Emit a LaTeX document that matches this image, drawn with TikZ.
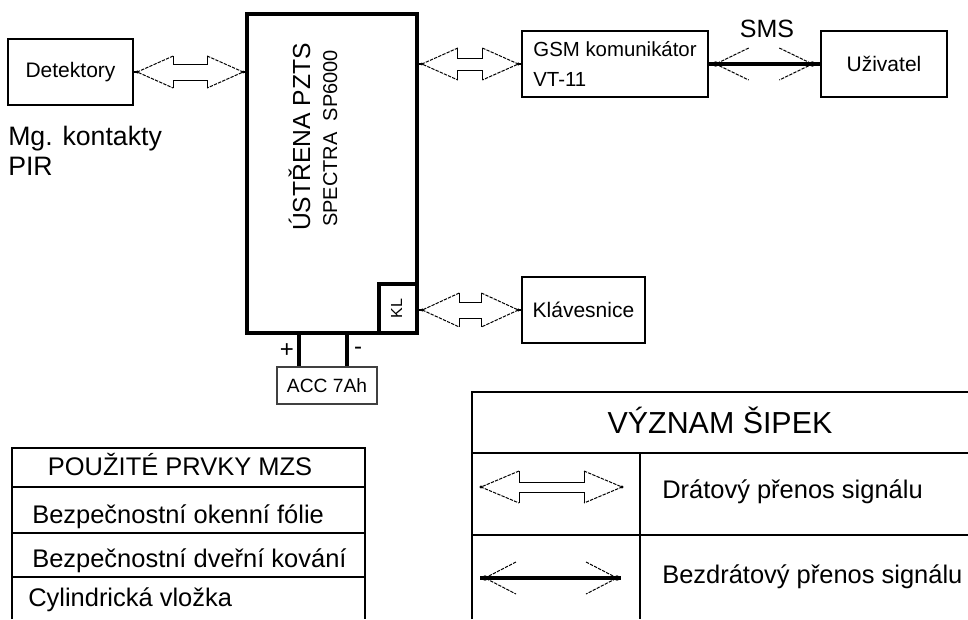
\documentclass[tikz,border=0pt]{standalone}
\usepackage{fontspec}
\setmainfont{Liberation Sans}
\usetikzlibrary{calc}
\tikzset{
  box/.style={draw, line width=1pt, rectangle, inner sep=0pt, font=\fontsize{15.75}{18}\selectfont},
  arrowline/.style={line width=0.75pt},
  diagline/.style={line width=0.75pt, dash pattern=on 2.5pt off 0.9pt},
  wireline/.style={line width=2.8pt},
  stub/.style={line width=1.8pt},
  grid/.style={line width=1.1pt},
  tabtext/.style={font=\fontsize{19.1}{22}\selectfont, inner sep=0pt, anchor=base west},
  tabhead/.style={font=\fontsize{19.1}{22}\selectfont, inner sep=0pt, anchor=base},
}
% wired (hollow) double arrow: #1 left tip, #2 right tip, #3 head length, #4 head half height, #5 shaft half height
\newcommand\wiredarrow[5]{%
  \draw[arrowline] ($(#1)+(#3,-#4)$) -- ($(#1)+(#3,-#5)$) -- ($(#2)+(-#3,-#5)$) -- ($(#2)+(-#3,-#4)$);
  \draw[arrowline] ($(#1)+(#3,#4)$) -- ($(#1)+(#3,#5)$) -- ($(#2)+(-#3,#5)$) -- ($(#2)+(-#3,#4)$);
  \draw[diagline] ($(#1)+(#3,-#4)$) -- (#1) -- ($(#1)+(#3,#4)$);
  \draw[diagline] ($(#2)+(-#3,-#4)$) -- (#2) -- ($(#2)+(-#3,#4)$);
  \fill (#1) circle (1.2pt);
  \fill (#2) circle (1.2pt);
}
% wireless arrow heads: #1 left tip, #2 right tip, #3 head length, #4 head half height
\newcommand\wirelessheads[4]{%
  \draw[diagline] ($(#1)+(#3,-#4)$) -- (#1) -- ($(#1)+(#3,#4)$);
  \draw[diagline] ($(#2)+(-#3,-#4)$) -- (#2) -- ($(#2)+(-#3,#4)$);
  \fill (#1) circle (2pt);
  \fill (#2) circle (2pt);
}
\begin{document}
\begin{tikzpicture}[x=0.75pt,y=-0.75pt]
\useasboundingbox (0,0) rectangle (968,619);
\fill[white] (0,0) rectangle (968,619);

% ---- blocks
\node[box, minimum width=93.75pt, minimum height=49.5pt] (det) at (70.5,72) {Detektory};
\node[anchor=base west, inner sep=0pt, font=\fontsize{20}{24}\selectfont] (mg) at (8,145) {Mg. kontakty};
\node[anchor=base west, inner sep=0pt, font=\fontsize{20}{24}\selectfont] (pir) at (8,175) {PIR};

\node[draw, line width=2.8pt, minimum width=127.5pt, minimum height=239.25pt, inner sep=0pt] (main) at (332,173.5) {};
\node[rotate=90, anchor=base, inner sep=0pt, font=\fontsize{18.5}{20}\selectfont] (t1) at (310,137) {ÚSTŘENA PZTS};
\node[rotate=90, anchor=base, inner sep=0pt, font=\fontsize{15}{18}\selectfont] (t2) at (337,138.5) {SPECTRA\ \ SP6000};

\node[draw, line width=3.4pt, minimum width=28.5pt, minimum height=36.75pt, inner sep=0pt] (kl) at (398,308.5) {};
\node[rotate=90, anchor=base, inner sep=0pt, font=\fontsize{12}{13}\selectfont] (kltext) at (402,308.5) {KL};

\node[box, minimum width=139.5pt, minimum height=49.5pt, align=left, font=\fontsize{15.3}{22.5}\selectfont] (gsm) at (615,64) {GSM komunikátor\\VT-11};
\node[box, minimum width=94.5pt, minimum height=49.5pt] (uziv) at (884,64) {Uživatel};
\node[anchor=base, inner sep=0pt, font=\fontsize{18.75}{20}\selectfont] (sms) at (767,37) {SMS};

\node[box, minimum width=92.25pt, minimum height=49.5pt] (klav) at (583.5,310) {Klávesnice};

\node[box, draw=black!75, line width=1.8pt, minimum width=75pt, minimum height=27.75pt, font=\fontsize{14.4}{16}\selectfont] (acc) at (327,385.5) {ACC 7Ah};
\coordinate (pp) at (299,0);
\coordinate (pm) at (347,0);
\draw[line width=3.5pt] (main.south -| pp) -- (acc.north -| pp);
\draw[line width=3.5pt] (main.south -| pm) -- (acc.north -| pm);
\node[inner sep=0pt, font=\fontsize{18}{20}\selectfont] (plus) at (287,351) {+};
\node[inner sep=0pt, font=\fontsize{18}{20}\selectfont] (minus) at (358,351) {-};

% ---- connectors
% Detektory <-> main
\coordinate (a1) at ($(det.east)+(3.5,0)$);
\coordinate (a2) at ($(main.west |- det.east)+(-2,0)$);
\draw[stub] (det.east) -- (a1);
\draw[stub] (a2) -- (main.west |- det.east);
\wiredarrow{a1}{a2}{36}{16}{8}

% main <-> GSM
\coordinate (b1) at ($(main.east |- gsm.west)+(3,0)$);
\coordinate (b2) at ($(gsm.west)+(-3,0)$);
\draw[stub] (main.east |- gsm.west) -- (b1);
\draw[stub] (b2) -- (gsm.west);
\wiredarrow{b1}{b2}{36}{16}{6}

% KL <-> Klavesnice
\coordinate (c1) at ($(kl.east |- klav.west)+(3,0)$);
\coordinate (c2) at ($(klav.west)+(-3,0)$);
\draw[stub] (kl.east |- klav.west) -- (c1);
\draw[stub] (c2) -- (klav.west);
\wiredarrow{c1}{c2}{37}{17}{8}

% GSM <-> Uzivatel (SMS)
\draw[wireline] (gsm.east) -- (uziv.west);
\coordinate (s1) at ($(gsm.east)+(7,0)$);
\coordinate (s2) at ($(uziv.west)+(-8,0)$);
\wirelessheads{s1}{s2}{33}{16}

% ---- table: used elements
\draw[grid] (12,619) -- (12,448) -- (365,448) -- (365,619);
\draw[grid] (12,487) -- (365,487);
\draw[grid] (12,533) -- (365,533);
\draw[grid] (12,577) -- (365,577);
\node[tabhead] (mzsh) at (180,475) {POUŽITÉ PRVKY MZS};
\node[tabtext] (mzs1) at (32,523) {Bezpečnostní okenní fólie};
\node[tabtext] (mzs2) at (32,567) {Bezpečnostní dveřní kování};
\node[tabtext] (mzs3) at (28,606) {Cylindrická vložka};

% ---- legend table
\draw[grid] (472,619) -- (472,392) -- (968,392);
\draw[grid] (472,453) -- (968,453);
\draw[grid] (472,535) -- (968,535);
\draw[grid] (640,453) -- (640,619);
\node[anchor=base, inner sep=0pt, font=\fontsize{22.8}{26}\selectfont] (legh) at (720,433) {VÝZNAM ŠIPEK};
\node[tabtext] (leg1) at (662,498) {Drátový přenos signálu};
\node[tabtext] (leg2) at (662,583) {Bezdrátový přenos signálu};

\coordinate (lw1) at (481,487);
\coordinate (lw2) at (622,487);
\wiredarrow{lw1}{lw2}{38}{16}{5}

\coordinate (lv0) at (480,578);
\coordinate (lv3) at (621,578);
\draw[wireline] (lv0) -- (lv3);
\coordinate (lv1) at (485,578);
\coordinate (lv2) at (617,578);
\wirelessheads{lv1}{lv2}{31}{16}
\end{tikzpicture}
\end{document}
